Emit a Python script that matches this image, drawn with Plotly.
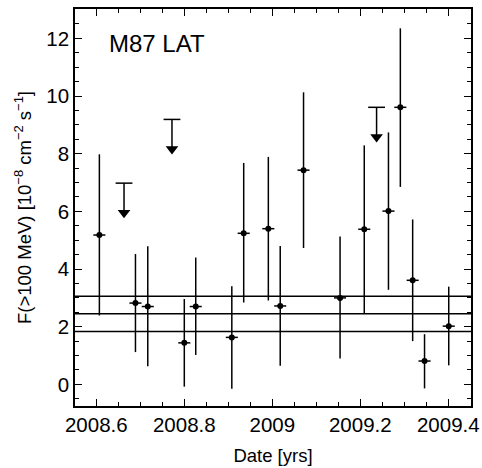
import plotly.graph_objects as go

# Light-curve points
t = [2008.607, 2008.689, 2008.717, 2008.800, 2008.826, 2008.908, 2008.935, 2008.991, 2009.018,
     2009.071, 2009.154, 2009.209, 2009.264, 2009.291, 2009.319, 2009.346, 2009.401]
flux = [5.18, 2.82, 2.70, 1.44, 2.70, 1.63, 5.24, 5.40, 2.72, 7.43, 3.00, 5.38, 6.01, 9.61, 3.61, 0.81, 2.02]
flux_hi = [7.98, 4.52, 4.79, 2.96, 4.40, 3.40, 7.68, 7.89, 4.80, 10.13, 5.13, 8.29, 8.74, 12.35, 5.72, 1.74, 3.39]
flux_lo = [2.39, 1.12, 0.63, -0.08, 1.02, -0.15, 2.84, 2.91, 0.65, 4.73, 0.90, 2.46, 3.28, 6.85, 1.50, -0.14, 0.66]
t_halfbin = 0.0137

# Upper limits
ul_t = [2008.663, 2008.772, 2009.237]
ul_val = [6.98, 9.19, 9.61]

# Mean flux and +/- 1 sigma
mean_lines = [3.06, 2.45, 1.83]

# Tick labels
x_tickvals = [2008.6, 2008.8, 2009.0, 2009.2, 2009.4]
x_ticktext = ["2008.6", "2008.8", "2009", "2009.2", "2009.4"]
y_tickvals = [0, 2, 4, 6, 8, 10, 12]
y_ticktext = ["0", "2", "4", "6", "8", "10", "12"]

ARROW = 1.22      # arrow length (style)
HEAD_OFF = 0.19   # arrowhead centre offset (style)

FONT = "Liberation Sans, Arial, Helvetica, sans-serif"

fig = go.Figure()

fig.add_trace(go.Scatter(
    x=t, y=flux, mode="markers",
    marker=dict(symbol="circle", size=6, color="black"),
    error_y=dict(type="data", symmetric=False,
                 array=[h - f for h, f in zip(flux_hi, flux)],
                 arrayminus=[f - l for f, l in zip(flux, flux_lo)],
                 color="black", thickness=1.5, width=0),
    error_x=dict(type="constant", value=t_halfbin, color="black", thickness=1.5, width=0),
    showlegend=False, hoverinfo="skip",
))

# Upper-limit arrows: shaft
for x, u in zip(ul_t, ul_val):
    fig.add_trace(go.Scatter(
        x=[x, x], y=[u, u - ARROW + HEAD_OFF], mode="lines",
        line=dict(color="black", width=1.5), showlegend=False, hoverinfo="skip"))
# caps
fig.add_trace(go.Scatter(
    x=ul_t, y=ul_val, mode="markers",
    marker=dict(symbol="line-ew", size=12, line=dict(color="black", width=1.5)),
    showlegend=False, hoverinfo="skip"))
# heads
fig.add_trace(go.Scatter(
    x=ul_t, y=[u - ARROW + HEAD_OFF for u in ul_val], mode="markers",
    marker=dict(symbol="triangle-down", size=11, color="black", line=dict(width=0)),
    showlegend=False, hoverinfo="skip"))

for m in mean_lines:
    fig.add_hline(y=m, line=dict(color="black", width=1.5))

fig.add_annotation(text="M87 LAT", xref="paper", yref="paper", x=0.08, y=0.914,
                   xanchor="left", yanchor="middle", showarrow=False,
                   font=dict(size=24, color="black", family=FONT))

axis_common = dict(showgrid=False, zeroline=False, showline=True, linecolor="black", linewidth=1.5,
                   mirror="ticks", ticks="inside", ticklen=7, tickwidth=1.2, tickcolor="black",
                   automargin=False,
                   tickfont=dict(size=20.5, color="black", family=FONT))

fig.update_xaxes(range=[2008.5516, 2009.4516], tickmode="array",
                 tickvals=x_tickvals, ticktext=x_ticktext,
                 minor=dict(dtick=0.05, tick0=2008.6, ticks="inside", ticklen=4, tickcolor="black", tickwidth=1.2),
                 title=dict(text="Date [yrs]", font=dict(size=18.5, color="black", family=FONT), standoff=14),
                 **axis_common)
fig.update_yaxes(range=[-0.75, 13.02], tickmode="array",
                 tickvals=y_tickvals, ticktext=y_ticktext,
                 minor=dict(dtick=0.5, tick0=0, ticks="inside", ticklen=4, tickcolor="black", tickwidth=1.2),
                 title=dict(text="F(>100 MeV) [10<sup>\u22128</sup> cm<sup>\u22122</sup> s<sup>\u22121</sup>]",
                            font=dict(size=18.5, color="black", family=FONT), standoff=10),
                 **axis_common)

fig.update_layout(width=482, height=468, margin=dict(l=75, r=11, t=9, b=62),
                  paper_bgcolor="white", plot_bgcolor="white",
                  font=dict(family=FONT, color="black"))

fig.write_html("out.html", config={"displayModeBar": False},
               post_script="document.body.style.margin='0';document.body.style.overflow='hidden';")
